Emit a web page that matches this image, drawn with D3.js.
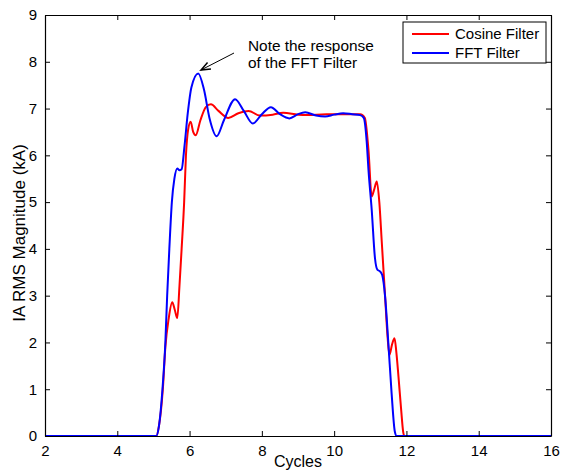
<!DOCTYPE html>
<html>
<head>
<meta charset="utf-8">
<script src="https://cdn.jsdelivr.net/npm/d3@7"></script>
<style>
  html, body { margin: 0; padding: 0; background: #fff; }
  #chart { width: 562px; height: 472px; }
  text { font-family: "Liberation Sans", Arial, sans-serif; }
</style>
</head>
<body>
<div id="chart"></div>
<script>
// values
var cosineX = [2, 5.08, 5.15, 5.26, 5.33, 5.42, 5.52, 5.59, 5.66, 5.72, 5.78, 5.85, 5.90, 5.96, 6.03, 6.10, 6.17, 6.30, 6.45, 6.59, 6.80, 7.07, 7.35, 7.63, 7.95, 8.30, 8.59, 9.00, 9.24, 9.79, 10.30, 10.72, 10.85, 10.95, 11.04, 11.10, 11.18, 11.25, 11.32, 11.41, 11.48, 11.53, 11.60, 11.67, 11.72, 11.78, 11.85, 11.91, 11.94, 16];
var cosineY = [0, 0, 0.2, 1.0, 1.9, 2.5, 2.86, 2.7, 2.52, 3.2, 4.0, 5.0, 6.0, 6.55, 6.72, 6.5, 6.43, 6.75, 7.03, 7.09, 6.95, 6.80, 6.9, 6.95, 6.85, 6.87, 6.91, 6.87, 6.86, 6.88, 6.88, 6.88, 6.8, 6.11, 5.12, 5.25, 5.44, 5.0, 4.12, 2.98, 2.1, 1.73, 1.95, 2.09, 1.8, 1.27, 0.6, 0.09, 0, 0];

var fftX = [2, 5.08, 5.15, 5.25, 5.33, 5.38, 5.44, 5.51, 5.58, 5.66, 5.72, 5.78, 5.86, 5.95, 6.05, 6.24, 6.40, 6.55, 6.75, 6.95, 7.26, 7.50, 7.75, 8.00, 8.25, 8.50, 8.76, 9.00, 9.20, 9.50, 9.75, 10.00, 10.25, 10.50, 10.72, 10.82, 10.90, 10.95, 11.04, 11.13, 11.20, 11.27, 11.33, 11.41, 11.50, 11.59, 11.68, 11.73, 16];
var fftY = [0, 0, 0.2, 1.0, 2.0, 3.0, 4.0, 5.0, 5.5, 5.72, 5.68, 5.70, 6.2, 6.9, 7.45, 7.75, 7.4, 6.8, 6.41, 6.75, 7.2, 6.95, 6.68, 6.88, 7.03, 6.88, 6.79, 6.88, 6.92, 6.85, 6.83, 6.87, 6.90, 6.88, 6.86, 6.8, 6.3, 5.69, 4.83, 3.8, 3.55, 3.52, 3.44, 2.98, 1.98, 0.91, 0.09, 0, 0];

var seriesNames = ['Cosine Filter', 'FFT Filter'];
var seriesColors = ['#ff0000', '#0000ff'];
var xTicks = [2, 4, 6, 8, 10, 12, 14, 16];
var yTicks = [0, 1, 2, 3, 4, 5, 6, 7, 8, 9];

(function() {

  var width = 562;
  var height = 472;
  var margin = {left: 45, right: 11, top: 15, bottom: 36};

  var toPoints = function(xs, ys) {
    return xs.map(function(x, i) { return [x, ys[i]]; });
  };
  var dataset = [toPoints(cosineX, cosineY), toPoints(fftX, fftY)];

  var xScale = d3.scaleLinear()
                 .domain([2, 16])
                 .range([margin.left, width - margin.right]);

  var yScale = d3.scaleLinear()
                 .domain([0, 9])
                 .range([height - margin.bottom, margin.top]);

  var svg = d3.select('#chart')
    .append('svg')
    .attr('width', width)
    .attr('height', height);

  var line = d3.line()
    .x(function(d) { return xScale(d[0]); })
    .y(function(d) { return yScale(d[1]); })
    .curve(d3.curveMonotoneX);

  svg.selectAll('path.series')
    .data(dataset)
    .enter()
    .append('path')
    .attr('class', 'series')
    .attr('d', line)
    .attr('fill', 'none')
    .attr('stroke', function(d, i) { return seriesColors[i]; })
    .attr('stroke-width', 2)
    .attr('stroke-linejoin', 'round');

  // axes, ticks inward on all four sides
  var tickLen = 5;
  var bottom = svg.append('g')
    .attr('transform', 'translate(0,' + yScale(0) + ')')
    .call(d3.axisBottom(xScale).tickValues(xTicks).tickSizeInner(-tickLen).tickSizeOuter(0).tickPadding(9));
  var top = svg.append('g')
    .attr('transform', 'translate(0,' + yScale(9) + ')')
    .call(d3.axisTop(xScale).tickValues(xTicks).tickSizeInner(-tickLen).tickSizeOuter(0).tickFormat(''));
  var left = svg.append('g')
    .attr('transform', 'translate(' + xScale(2) + ',0)')
    .call(d3.axisLeft(yScale).tickValues(yTicks).tickSizeInner(-tickLen).tickSizeOuter(0).tickPadding(8));
  var right = svg.append('g')
    .attr('transform', 'translate(' + xScale(16) + ',0)')
    .call(d3.axisRight(yScale).tickValues(yTicks).tickSizeInner(-tickLen).tickSizeOuter(0).tickFormat(''));

  [bottom, top, left, right].forEach(function(g) {
    g.select('.domain').attr('stroke', '#000').attr('stroke-width', 1.2);
    g.selectAll('.tick line').attr('stroke', '#000');
    g.selectAll('.tick text')
      .style('font-size', '15px')
      .style('font-family', '"Liberation Sans", Arial, sans-serif')
      .attr('fill', '#000');
  });

  svg.append('text')
    .attr('x', (xScale(2) + xScale(16)) / 2)
    .attr('y', 467)
    .attr('text-anchor', 'middle')
    .style('font-size', '16px')
    .text('Cycles');

  svg.append('text')
    .attr('transform', 'translate(25,' + 233 + ') rotate(-90)')
    .attr('text-anchor', 'middle')
    .style('font-size', '17px')
    .text('IA RMS Magnitude (kA)');

  // annotation
  svg.append('text')
    .attr('x', 248)
    .attr('y', 51)
    .style('font-size', '15.4px')
    .text('Note the response');
  svg.append('text')
    .attr('x', 248)
    .attr('y', 68)
    .style('font-size', '15.4px')
    .text('of the FFT Filter');

  var tip = [201, 70];
  var tail = [234, 53];
  var ang = Math.atan2(tail[1] - tip[1], tail[0] - tip[0]);
  var headLen = 10, headW = 0.38;
  svg.append('line')
    .attr('x1', tail[0]).attr('y1', tail[1])
    .attr('x2', tip[0]).attr('y2', tip[1])
    .attr('stroke', '#000').attr('stroke-width', 1);
  svg.append('path')
    .attr('d', 'M' + (tip[0] + headLen * Math.cos(ang - headW)) + ',' + (tip[1] + headLen * Math.sin(ang - headW))
      + 'L' + tip[0] + ',' + tip[1]
      + 'L' + (tip[0] + headLen * Math.cos(ang + headW)) + ',' + (tip[1] + headLen * Math.sin(ang + headW)))
    .attr('fill', 'none')
    .attr('stroke', '#000')
    .attr('stroke-width', 1.5);

  // legend
  var legend = svg.append('g').attr('transform', 'translate(403,22)');
  legend.append('rect')
    .attr('width', 143)
    .attr('height', 41)
    .attr('fill', '#fff')
    .attr('stroke', '#000')
    .attr('stroke-width', 1);
  var item = legend.selectAll('g.item')
    .data(seriesNames)
    .enter()
    .append('g')
    .attr('class', 'item')
    .attr('transform', function(d, i) { return 'translate(0,' + (12 + i * 19) + ')'; });
  item.append('line')
    .attr('x1', 9).attr('x2', 46)
    .attr('stroke', function(d, i) { return seriesColors[i]; })
    .attr('stroke-width', 2);
  item.append('text')
    .attr('x', 52)
    .attr('dy', '0.35em')
    .style('font-size', '15px')
    .text(function(d) { return d; });

})()
</script>
</body>
</html>
